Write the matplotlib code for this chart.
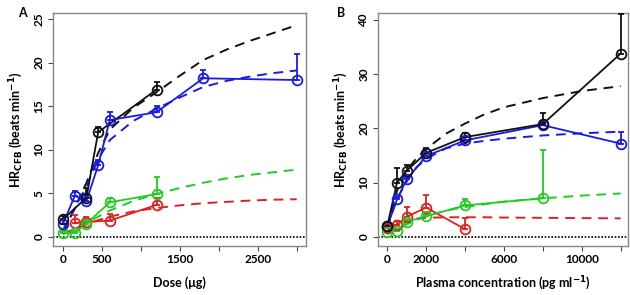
import matplotlib
matplotlib.use("Agg")
import matplotlib.pyplot as plt
import numpy as np

plt.rcParams['font.family'] = ['Lato', 'DejaVu Sans']

# ---------------- Panel A (dose) ----------------
a_black_x = [0, 300, 450, 1200]
a_black_y = [2.0, 4.5, 12.0, 16.9]
a_black_up = [2.4, 5.6, 12.6, 17.8]

a_blue_x = [0, 150, 300, 450, 600, 1200, 1800, 3000]
a_blue_y = [1.5, 4.7, 4.1, 8.2, 13.4, 14.3, 18.2, 18.0]
a_blue_up = [1.9, 5.3, 4.8, 8.8, 14.3, 15.0, 19.1, 21.0]

a_red_x = [150, 300, 600, 1200]
a_red_y = [1.55, 1.7, 1.85, 3.65]
a_red_up = [2.5, 2.3, 2.6, 4.5]

a_green_x = [0, 150, 300, 600, 1200]
a_green_y = [0.45, 0.45, 1.5, 3.95, 4.9]
a_green_up = [0.7, 0.7, 1.8, 4.4, 6.9]

a_fit_x = [0, 150, 300, 450, 600, 900, 1200, 1500, 1800, 2100, 2400, 2700, 3000]
a_fit_black = [0.5, 3.3, 6.2, 9.6, 12.3, 14.8, 16.6, 18.5, 20.3, 21.5, 22.5, 23.4, 24.3]
a_fit_blue = [0.8, 3.2, 5.8, 8.9, 11.1, 13.3, 14.7, 16.0, 17.2, 17.9, 18.4, 18.8, 19.1]
a_fit_green = [0.3, 0.9, 1.6, 2.3, 3.0, 4.1, 4.9, 5.6, 6.2, 6.7, 7.1, 7.4, 7.7]
a_fit_red = [0.3, 0.9, 1.4, 1.9, 2.3, 2.9, 3.3, 3.6, 3.85, 4.0, 4.15, 4.25, 4.3]

# ---------------- Panel B (plasma concentration) ----------------
b_black_x = [0, 500, 1000, 2000, 4000, 8000, 12000]
b_black_y = [2.0, 10.0, 12.2, 15.5, 18.4, 20.8, 33.8]
b_black_up = [2.5, 12.7, 13.2, 16.3, 19.2, 22.9, 41.2]

b_blue_x = [0, 500, 1000, 2000, 4000, 8000, 12000]
b_blue_y = [1.9, 6.9, 10.6, 14.9, 17.8, 20.6, 17.2]
b_blue_up = [2.3, 7.3, 11.0, 15.4, 18.4, 21.0, 19.4]

b_red_x = [0, 500, 1000, 2000, 4000]
b_red_y = [1.6, 2.2, 3.7, 5.4, 1.4]
b_red_up = [2.0, 3.0, 5.5, 7.7, 3.4]

b_green_x = [0, 500, 1000, 2000, 4000, 8000]
b_green_y = [0.8, 1.1, 2.8, 3.8, 5.8, 7.1]
b_green_up = [1.0, 1.4, 3.1, 4.2, 6.9, 16.1]

b_fit_x = [0, 250, 500, 1000, 1500, 2000, 3000, 4000, 5000, 6000, 8000, 10000, 12000]
b_fit_black = [1.5, 5.0, 8.5, 12.3, 14.5, 16.2, 19.0, 20.9, 22.6, 23.9, 25.6, 26.9, 27.8]
b_fit_blue = [1.5, 4.5, 7.0, 10.2, 12.8, 14.4, 16.3, 17.2, 17.7, 18.1, 18.7, 19.1, 19.4]
b_fit_green = [0.5, 0.9, 1.3, 2.3, 3.1, 3.8, 4.8, 5.5, 6.0, 6.5, 7.1, 7.6, 8.0]
b_fit_red = [1.0, 2.0, 2.6, 3.1, 3.35, 3.5, 3.6, 3.6, 3.6, 3.55, 3.5, 3.45, 3.4]

C_BLACK = '#111111'
C_BLUE = '#1a1ae6'
C_RED = '#e02020'
C_GREEN = '#22cc22'

fig = plt.figure(figsize=(6.3, 2.95), dpi=100)
axA = fig.add_axes([0.0841, 0.1661, 0.4016, 0.7898])
axB = fig.add_axes([0.5995, 0.1661, 0.3973, 0.7898])


def draw_obs(ax, x, y, up, c):
    ax.plot(x, y, '-', color=c, lw=1.3, zorder=3)
    yerr = [np.zeros(len(y)), np.array(up) - np.array(y)]
    ax.errorbar(x, y, yerr=yerr, fmt='none', ecolor=c, elinewidth=1.3,
                capsize=2, capthick=1.3, zorder=3)
    ax.plot(x, y, 'o', mfc='none', mec=c, mew=1.3, ms=7, zorder=4)


def draw_fit(ax, x, y, c):
    ax.plot(x, y, '--', color=c, lw=1.4, dashes=(5, 3.5), zorder=2)


def style(ax):
    for s in ax.spines.values():
        s.set_color('#888888')
        s.set_linewidth(1.0)
    ax.tick_params(axis='both', direction='out', length=3.5, width=0.8,
                   color='#444444', labelsize=8.5, pad=2.5)
    for lab in ax.get_xticklabels() + ax.get_yticklabels():
        lab.set_fontweight('bold')
    for lab in ax.get_yticklabels():
        lab.set_rotation(90)
        lab.set_va('center')


# Panel A
for x, y, c in [(a_fit_x, a_fit_black, C_BLACK), (a_fit_x, a_fit_blue, C_BLUE),
                (a_fit_x, a_fit_green, C_GREEN), (a_fit_x, a_fit_red, C_RED)]:
    draw_fit(axA, x, y, c)
draw_obs(axA, a_red_x, a_red_y, a_red_up, C_RED)
draw_obs(axA, a_green_x, a_green_y, a_green_up, C_GREEN)
draw_obs(axA, a_blue_x, a_blue_y, a_blue_up, C_BLUE)
draw_obs(axA, a_black_x, a_black_y, a_black_up, C_BLACK)
axA.axhline(0, color='black', lw=1.2, ls=(0, (1, 1)), zorder=1)
axA.set_xlim(-130, 3120)
axA.set_ylim(-1.07, 25.7)
axA.set_xticks([0, 500, 1000, 1500, 2000, 2500, 3000])
axA.set_xticklabels(['0', '500', '', '1500', '', '2500', ''])
axA.set_yticks([0, 5, 10, 15, 20, 25])
axA.set_xlabel('Dose (μg)', fontsize=9, fontweight='bold', labelpad=8)
axA.set_ylabel(r'HR$_{\mathbf{CFB}}$ (beats min$^{\mathbf{-1}}$)', fontsize=9,
               fontweight='bold', labelpad=6)
style(axA)

# Panel B
for x, y, c in [(b_fit_x, b_fit_black, C_BLACK), (b_fit_x, b_fit_blue, C_BLUE),
                (b_fit_x, b_fit_green, C_GREEN), (b_fit_x, b_fit_red, C_RED)]:
    draw_fit(axB, x, y, c)
draw_obs(axB, b_red_x, b_red_y, b_red_up, C_RED)
draw_obs(axB, b_green_x, b_green_y, b_green_up, C_GREEN)
draw_obs(axB, b_blue_x, b_blue_y, b_blue_up, C_BLUE)
draw_obs(axB, b_black_x, b_black_y, b_black_up, C_BLACK)
axB.axhline(0, color='black', lw=1.2, ls=(0, (1, 1)), zorder=1)
axB.set_xlim(-494, 12380)
axB.set_ylim(-1.7, 41.3)
axB.set_xticks([0, 2000, 4000, 6000, 8000, 10000, 12000])
axB.set_xticklabels(['0', '2000', '', '6000', '', '10000', ''])
axB.set_yticks([0, 10, 20, 30, 40])
axB.set_xlabel('Plasma concentration (pg ml$^{\\mathbf{-1}}$)', fontsize=9,
               fontweight='bold', labelpad=6)
axB.set_ylabel(r'HR$_{\mathbf{CFB}}$ (beats min$^{\mathbf{-1}}$)', fontsize=9,
               fontweight='bold', labelpad=6)
style(axB)

fig.text(0.028, 0.975, 'A', fontsize=9, fontweight='bold', va='top')
fig.text(0.535, 0.975, 'B', fontsize=9, fontweight='bold', va='top')

fig.savefig('out.png', dpi=100)
